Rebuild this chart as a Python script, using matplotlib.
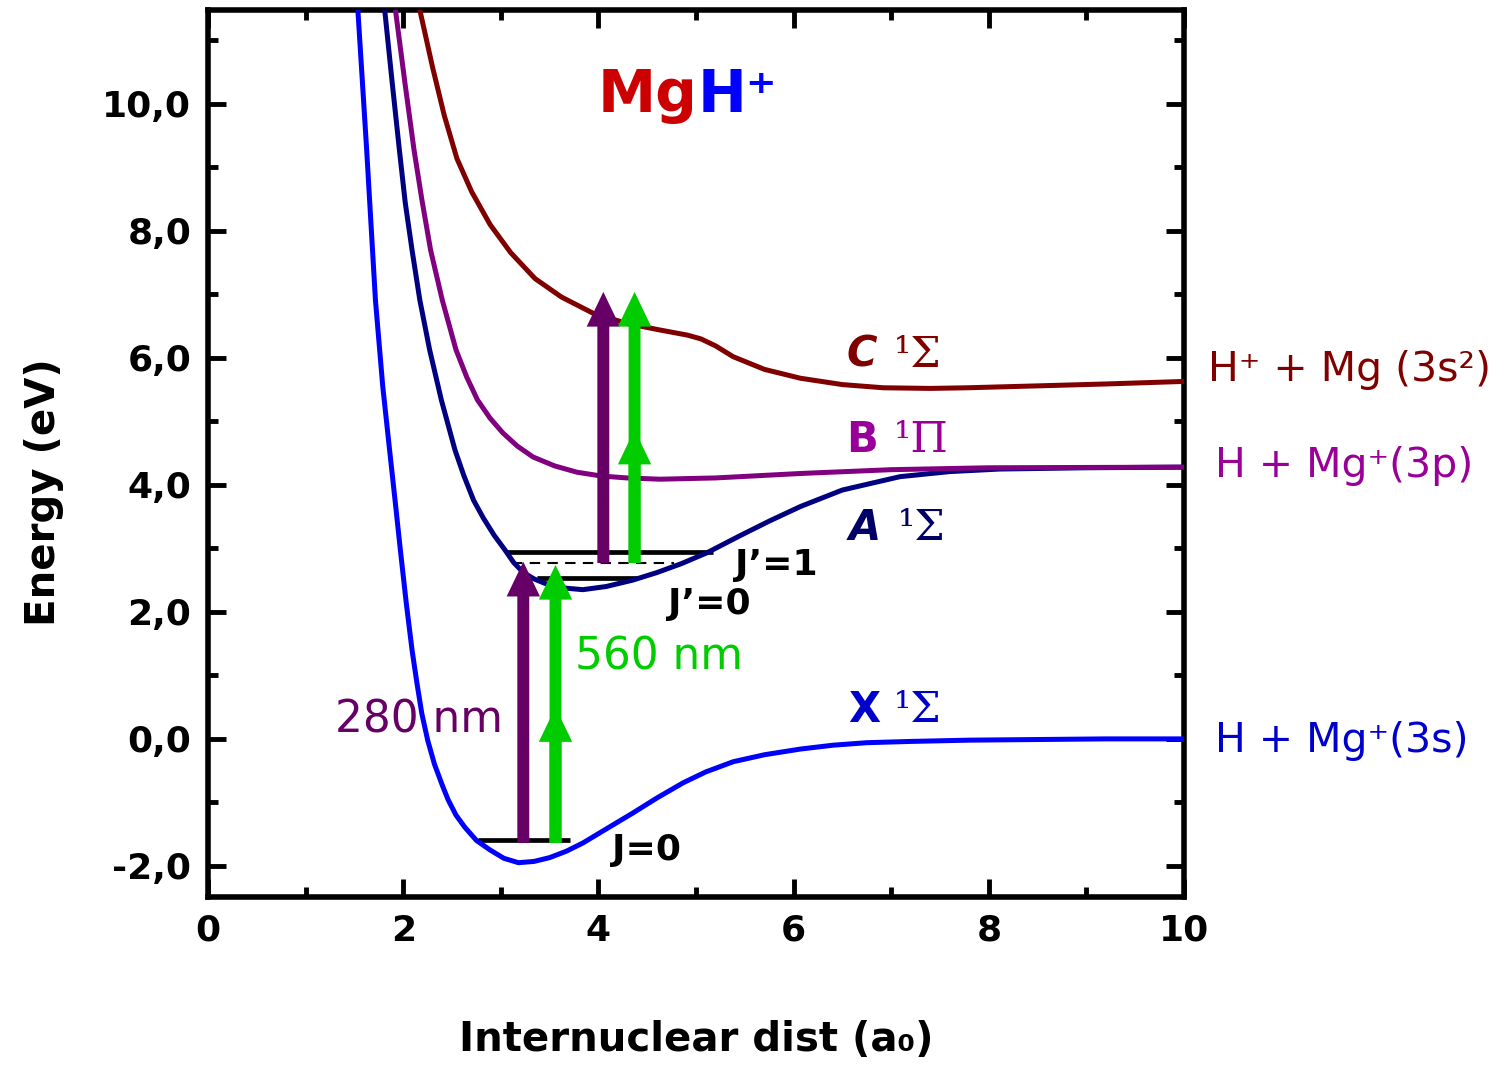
import matplotlib
matplotlib.use("Agg")
import matplotlib.pyplot as plt
from matplotlib.patches import FancyArrowPatch, ArrowStyle
from matplotlib.ticker import MultipleLocator

plt.rcParams['font.family'] = ['DejaVu Sans']

# potential curves (r in a0, E in eV)
x_r = [1.535, 1.625, 1.715, 1.79, 1.86, 1.92, 1.97, 2.03, 2.09, 2.14, 2.19, 2.25, 2.32, 2.40,
       2.46, 2.54, 2.63, 2.75, 2.89, 3.03, 3.18, 3.34, 3.50, 3.67, 3.84, 4.10, 4.35, 4.60,
       4.87, 5.10, 5.38, 5.70, 6.07, 6.40, 6.75, 7.2, 7.8, 8.5, 9.2, 10.0]
x_E = [11.48, 9.28, 6.91, 5.55, 4.55, 3.70, 2.98, 2.15, 1.40, 0.88, 0.40, -0.02, -0.40, -0.73,
       -0.96, -1.20, -1.39, -1.60, -1.75, -1.88, -1.95, -1.93, -1.87, -1.77, -1.64, -1.40,
       -1.17, -0.93, -0.69, -0.52, -0.36, -0.25, -0.16, -0.10, -0.06, -0.04, -0.02, -0.01,
       0.0, 0.0]

a_r = [1.81, 1.885, 1.96, 2.02, 2.09, 2.17, 2.27, 2.39, 2.53, 2.62, 2.72, 2.82, 2.93, 3.04,
       3.13, 3.23, 3.34, 3.45, 3.62, 3.84, 4.08, 4.35, 4.60, 4.85, 5.11, 5.45, 5.75, 6.07,
       6.5, 7.09, 7.6, 8.11, 9.0, 10.0]
a_E = [11.48, 10.36, 9.28, 8.45, 7.70, 6.91, 6.13, 5.34, 4.55, 4.15, 3.76, 3.48, 3.21, 2.98,
       2.78, 2.62, 2.52, 2.45, 2.38, 2.35, 2.40, 2.50, 2.62, 2.76, 2.93, 3.20, 3.43, 3.66,
       3.92, 4.13, 4.21, 4.25, 4.27, 4.28]

b_r = [1.92, 2.02, 2.11, 2.19, 2.28, 2.40, 2.54, 2.65, 2.76, 2.89, 3.02, 3.17, 3.33, 3.55,
       3.78, 4.03, 4.29, 4.63, 5.2, 6.07, 7.0, 8.0, 10.0]
b_E = [11.48, 10.30, 9.28, 8.50, 7.70, 6.91, 6.13, 5.70, 5.34, 5.05, 4.82, 4.61, 4.44, 4.30,
       4.20, 4.14, 4.11, 4.09, 4.11, 4.18, 4.24, 4.27, 4.28]

c_r = [2.17, 2.30, 2.42, 2.55, 2.70, 2.89, 3.10, 3.35, 3.62, 3.95, 4.30, 4.63, 4.91, 5.05,
       5.20, 5.38, 5.70, 6.07, 6.50, 6.92, 7.40, 7.78, 8.5, 9.2, 10.0]
c_E = [11.48, 10.58, 9.82, 9.14, 8.62, 8.10, 7.66, 7.25, 6.96, 6.70, 6.54, 6.44, 6.36, 6.30,
       6.19, 6.02, 5.82, 5.68, 5.58, 5.53, 5.52, 5.53, 5.56, 5.59, 5.63]

# rovibrational levels: (x0, x1, E)
lev_J0 = (2.77, 3.71, -1.59)
lev_Jp0 = (3.37, 4.40, 2.53)
lev_Jp1 = (3.06, 5.17, 2.94)
lev_dash = (3.11, 4.77, 2.77)

# arrows: (x, E_start, E_tip)
uv_low = (3.23, -1.64, 2.79)
gr_low = (3.56, -1.64, 2.74)
gr_low_mid = 0.50
uv_up = (4.05, 2.77, 7.04)
gr_up = (4.37, 2.77, 7.04)
gr_up_mid = 4.87

yticks = [-2, 0, 2, 4, 6, 8, 10]
ytick_labels = ["-2,0", "0,0", "2,0", "4,0", "6,0", "8,0", "10,0"]
xticks = [0, 2, 4, 6, 8, 10]

fig = plt.figure(figsize=(15.11, 10.75), dpi=100)
ax = fig.add_axes([0.1377, 0.1656, 0.6459, 0.8251])
ax.set_xlim(0, 10)
ax.set_ylim(-2.49, 11.48)

ax.plot(x_r, x_E, color="#0000FF", lw=3.6, zorder=3, solid_joinstyle="round")
ax.plot(a_r, a_E, color="#000080", lw=3.6, zorder=3, solid_joinstyle="round")
ax.plot(b_r, b_E, color="#800080", lw=3.6, zorder=3, solid_joinstyle="round")
ax.plot(c_r, c_E, color="#800000", lw=3.6, zorder=3, solid_joinstyle="round")

for x0, x1, e in (lev_J0, lev_Jp0, lev_Jp1):
    ax.plot([x0, x1], [e, e], color="black", lw=3.4, solid_capstyle="butt", zorder=2)
ax.plot([lev_dash[0], lev_dash[1]], [lev_dash[2]] * 2, color="black", lw=1.5,
        dashes=(5, 3.5), zorder=2)

def arrow(x, y0, y1, col):
    st = ArrowStyle.Simple(head_length=25, head_width=24, tail_width=8.6)
    p = FancyArrowPatch((x, y0), (x, y1), arrowstyle=st, mutation_scale=1,
                        color=col, lw=0, shrinkA=0, shrinkB=0, zorder=5)
    ax.add_patch(p)

arrow(uv_low[0], uv_low[1], uv_low[2], "#660066")
arrow(gr_low[0], gr_low[1], gr_low[2], "#00CC00")
arrow(gr_low[0], gr_low[1], gr_low_mid, "#00CC00")
arrow(uv_up[0], uv_up[1], uv_up[2], "#660066")
arrow(gr_up[0], gr_up[1], gr_up[2], "#00CC00")
arrow(gr_up[0], gr_up[1], gr_up_mid, "#00CC00")

# state labels
for lab, x, y, col in (("C", 6.70, 6.05, "#800000"), ("B", 6.70, 4.71, "#990099"),
                       ("A", 6.73, 3.32, "#000066"), ("X", 6.72, 0.46, "#0000CC")):
    ax.text(x, y, lab, color=col, fontsize=30, fontweight="bold", ha="center", va="center",
            style="italic" if lab in ("C", "A") else "normal")
for sym, x, y, col in (("¹Σ", 7.03, 6.05, "#800000"), ("¹Π", 7.03, 4.71, "#990099"),
                       ("¹Σ", 7.07, 3.32, "#000066"), ("¹Σ", 7.03, 0.46, "#0000CC")):
    ax.text(x, y, sym, color=col, fontsize=31, family="DejaVu Serif", ha="left", va="center")

# asymptotes
ax.text(10.25, 5.81, "H⁺ + Mg (3s²)", color="#800000", fontsize=29.5, ha="left",
        va="center", clip_on=False)
ax.text(10.32, 4.30, "H + Mg⁺(3p)", color="#990099", fontsize=29.5, ha="left", va="center",
        clip_on=False)
ax.text(10.32, -0.03, "H + Mg⁺(3s)", color="#0000CC", fontsize=29.5, ha="left", va="center",
        clip_on=False)

ax.text(5.40, 2.74, "J’=1", fontsize=26, fontweight="bold", ha="left", va="center")
ax.text(4.71, 2.13, "J’=0", fontsize=26, fontweight="bold", ha="left", va="center")
ax.text(4.14, -1.75, "J=0", fontsize=26, fontweight="bold", ha="left", va="center")
ax.text(3.76, 1.29, "560 nm", fontsize=31.5, color="#00CC00", ha="left", va="center", zorder=6)
ax.text(1.30, 0.30, "280 nm", fontsize=31.5, color="#660066", ha="left", va="center", zorder=6)

ax.text(5.02, 10.13, "Mg", fontsize=42, fontweight="bold", color="#CC0000", ha="right",
        va="center")
ax.text(5.02, 10.13, "H⁺", fontsize=42, fontweight="bold", color="#0000FF", ha="left",
        va="center")

for s in ax.spines.values():
    s.set_linewidth(4)
ax.xaxis.set_major_locator(MultipleLocator(2))
ax.xaxis.set_minor_locator(MultipleLocator(1))
ax.yaxis.set_minor_locator(MultipleLocator(1))
ax.set_xticks(xticks)
ax.set_yticks(yticks)
ax.set_yticklabels(ytick_labels)
ax.tick_params(which="both", direction="in", top=True, right=True, width=3.5)
ax.tick_params(which="major", length=13, labelsize=26, pad=12)
ax.tick_params(which="minor", length=7)
for t in ax.get_xticklabels() + ax.get_yticklabels():
    t.set_fontweight("bold")

ax.set_xlabel("Internuclear dist (a₀)", fontsize=29, fontweight="bold", labelpad=52)
ax.set_ylabel("Energy (eV)", fontsize=29, fontweight="bold")
ax.yaxis.set_label_coords(-0.148, 0.456)

fig.savefig("out.png", dpi=100, facecolor="white")
